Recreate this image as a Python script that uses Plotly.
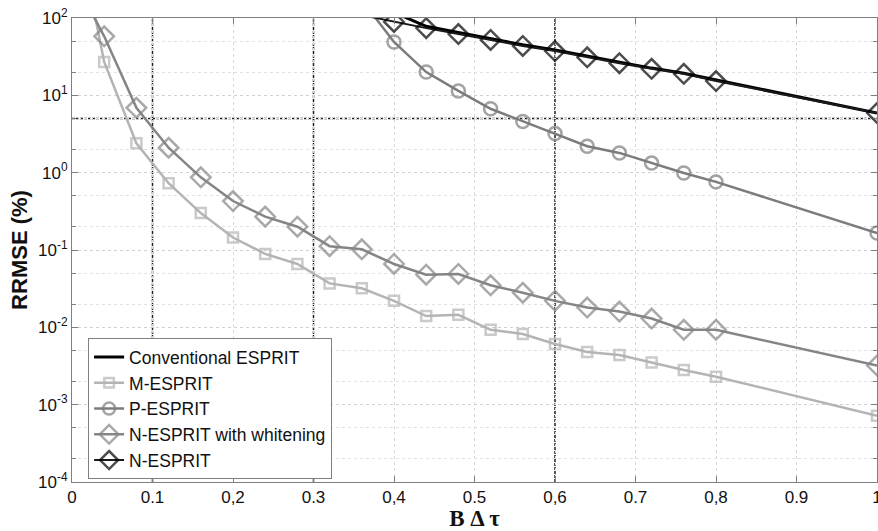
import plotly.graph_objects as go

# ---- data ----
x_conv = [0.40, 0.44, 0.48, 0.52, 0.56, 0.60, 0.64, 0.68, 0.72, 0.76, 0.80, 1.0]
y_conv = [118, 78, 65, 54, 45, 38.5, 32, 27, 22.5, 19.3, 15.8, 5.9]

x_m = [0.0, 0.04, 0.08, 0.12, 0.16, 0.20, 0.24, 0.28, 0.32, 0.36, 0.40, 0.44, 0.48,
       0.52, 0.56, 0.60, 0.64, 0.68, 0.72, 0.76, 0.80, 1.0]
y_m = [3200, 27, 2.4, 0.73, 0.30, 0.145, 0.089, 0.066, 0.037, 0.032, 0.022, 0.014, 0.0145,
       0.0093, 0.0082, 0.0061, 0.0048, 0.0044, 0.0035, 0.0028, 0.0023, 0.00072]

x_p = [0.36, 0.40, 0.44, 0.48, 0.52, 0.56, 0.60, 0.64, 0.68, 0.72, 0.76, 0.80, 1.0]
y_p = [170, 49, 20, 11.4, 6.7, 4.6, 3.2, 2.2, 1.8, 1.33, 0.99, 0.76, 0.166]

x_nw = [0.0, 0.04, 0.08, 0.12, 0.16, 0.20, 0.24, 0.28, 0.32, 0.36, 0.40, 0.44, 0.48,
        0.52, 0.56, 0.60, 0.64, 0.68, 0.72, 0.76, 0.80, 1.0]
y_nw = [350, 58, 6.9, 2.1, 0.87, 0.43, 0.27, 0.20, 0.112, 0.102, 0.066, 0.048, 0.049,
        0.035, 0.028, 0.022, 0.018, 0.016, 0.013, 0.0093, 0.0093, 0.0032]

x_n = [0.36, 0.40, 0.44, 0.48, 0.52, 0.56, 0.60, 0.64, 0.68, 0.72, 0.76, 0.80, 1.0]
y_n = [109, 89, 74, 62, 52, 43.5, 37.4, 31, 26, 22, 19, 15.3, 5.9]

vlines = [0.1, 0.3, 0.6]
hlines = [5]

x_tickvals = [0, 0.1, 0.2, 0.3, 0.4, 0.5, 0.6, 0.7, 0.8, 0.9, 1.0]
x_ticktext = ["0", "0.1", "0,2", "0.3", "0,4", "0.5", "0,6", "0.7", "0,8", "0.9", "1"]
y_tickvals = [1e-4, 1e-3, 1e-2, 1e-1, 1e0, 1e1, 1e2]
y_ticktext = ["10<sup>-4</sup>", "10<sup>-3</sup>", "10<sup>-2</sup>", "10<sup>-1</sup>",
              "10<sup>0</sup>", "10<sup>1</sup>", "10<sup>2</sup>"]

Y_MAX = 100  # top of the axis; points above it get no marker


def sizes(ys, s):
    return [0 if y > Y_MAX else s for y in ys]


fig = go.Figure()

fig.add_trace(go.Scatter(x=x_conv, y=y_conv, mode="lines", name="Conventional ESPRIT",
                         line=dict(color="#000000", width=3)))
fig.add_trace(go.Scatter(x=x_m, y=y_m, mode="lines+markers", name="M-ESPRIT",
                         line=dict(color="#b4b4b4", width=2.5),
                         marker=dict(symbol="square-open", size=sizes(y_m, 10), color="#b4b4b4",
                                     line=dict(width=2.5, color="#b4b4b4"))))
fig.add_trace(go.Scatter(x=x_p, y=y_p, mode="lines+markers", name="P-ESPRIT",
                         line=dict(color="#7c7c7c", width=2.5),
                         marker=dict(symbol="circle-open", size=sizes(y_p, 13), color="#7c7c7c",
                                     line=dict(width=2.5, color="#7c7c7c"))))
fig.add_trace(go.Scatter(x=x_nw, y=y_nw, mode="lines+markers", name="N-ESPRIT with whitening",
                         line=dict(color="#858585", width=2.5),
                         marker=dict(symbol="diamond-open", size=sizes(y_nw, 15), color="#858585",
                                     line=dict(width=2.5, color="#858585"))))
fig.add_trace(go.Scatter(x=x_n, y=y_n, mode="lines+markers", name="N-ESPRIT",
                         line=dict(color="#1a1a1a", width=2),
                         marker=dict(symbol="diamond-open", size=sizes(y_n, 15), color="#000000",
                                     line=dict(width=2.5, color="#000000"))))

for v in vlines:
    fig.add_vline(x=v, line=dict(color="#222222", width=1.5, dash="3px,1px"), layer="below")
for h in hlines:
    fig.add_hline(y=h, line=dict(color="#222222", width=1.5, dash="3px,1px"), layer="below")

axis_common = dict(showline=True, linecolor="#808080", linewidth=1, mirror="ticks",
                   ticks="inside", tickcolor="#808080", zeroline=False,
                   ticklabeloverflow="allow", automargin=False,
                   tickfont=dict(family="Arial, Liberation Sans", size=17, color="#111111"))

fig.update_xaxes(range=[0, 1], tickvals=x_tickvals, ticktext=x_ticktext, ticklen=6,
                 showgrid=True, gridcolor="#d8d8d8", griddash="dot", gridwidth=1,
                 title=dict(text="<b>B Δ τ</b>", standoff=2,
                            font=dict(family="Liberation Serif, Times New Roman, serif", size=23, color="#111111")),
                 **axis_common)
fig.update_yaxes(type="log", range=[-4, 2], tickvals=y_tickvals, ticktext=y_ticktext, ticklen=6,
                 showgrid=True, gridcolor="#d0d0d0", griddash="dot", gridwidth=1,
                 minor=dict(showgrid=True, gridcolor="#e2e2e2", griddash="dot", ticks="inside",
                            ticklen=4, tickcolor="#808080"),
                 title=dict(text="<b>RRMSE (%)</b>", standoff=4,
                            font=dict(family="Arial, Liberation Sans", size=22, color="#111111")),
                 **axis_common)

fig.update_layout(
    width=878, height=531,
    margin=dict(l=72, r=1, t=18, b=49),
    paper_bgcolor="white", plot_bgcolor="white",
    showlegend=True,
    legend=dict(x=0.02, y=0.31, xanchor="left", yanchor="top",
                bgcolor="white", bordercolor="#808080", borderwidth=1,
                font=dict(family="Arial, Liberation Sans", size=17.5, color="#111111"),
                tracegroupgap=0, itemwidth=30),
)

fig.write_html("out.html")
